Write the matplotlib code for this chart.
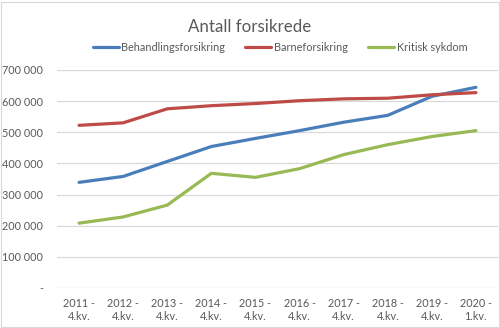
import matplotlib.pyplot as plt
from matplotlib.patches import Rectangle

plt.rcParams['font.family'] = ['Lato', 'DejaVu Sans']

periods = ['2011 -\n4.kv.', '2012 -\n4.kv.', '2013 -\n4.kv.', '2014 -\n4.kv.', '2015 -\n4.kv.',
           '2016 -\n4.kv.', '2017 -\n4.kv.', '2018 -\n4.kv.', '2019 -\n4.kv.', '2020 -\n1.kv.']
behandling = [339000, 358000, 406000, 454000, 480000, 505000, 532000, 554000, 615000, 644000]
barne = [522000, 530000, 575000, 585000, 592000, 601000, 607000, 609000, 620000, 627000]
kritisk = [208000, 228000, 266000, 368000, 355000, 383000, 428000, 460000, 486000, 505000]

grey = '#595959'

fig = plt.figure(figsize=(5, 3.28), dpi=100)
ax = fig.add_axes([0.114, 0.122, 0.882, 0.665])

x = range(len(periods))
ax.plot(x, behandling, color='#4A7EBB', lw=2.3, label='Behandlingsforsikring', solid_capstyle='round')
ax.plot(x, barne, color='#BE4B48', lw=2.3, label='Barneforsikring', solid_capstyle='round')
ax.plot(x, kritisk, color='#98B954', lw=2.3, label='Kritisk sykdom', solid_capstyle='round')

ax.set_xlim(-0.5, len(periods) - 0.5)
ax.set_ylim(0, 700000)
ax.set_yticks(range(0, 700001, 100000))
ax.set_yticklabels(['-'] + [f'{v:,}'.replace(',', ' ') for v in range(100000, 700001, 100000)])
ax.set_xticks(list(x))
ax.set_xticklabels(periods)
ax.grid(axis='y', color='#d9d9d9', lw=0.9)
ax.set_axisbelow(True)
for s in ax.spines.values():
    s.set_visible(False)
ax.tick_params(length=0, labelsize=7.8, colors=grey)
ax.tick_params(axis='x', pad=7)
ax.tick_params(axis='y', pad=10)

fig.text(0.5, 0.918, 'Antall forsikrede', ha='center', va='center', fontsize=12.2, color=grey)
fig.legend(loc='center', bbox_to_anchor=(0.56, 0.855), ncol=3, frameon=False, fontsize=7.8,
           labelcolor=grey, handlelength=2.4, handletextpad=0.25, columnspacing=1.85)

fig.patches.append(Rectangle((0.002, 0.004), 0.996, 0.99, transform=fig.transFigure,
                             fill=False, edgecolor='#d9d9d9', lw=0.8))

fig.savefig('out.png', dpi=100)
